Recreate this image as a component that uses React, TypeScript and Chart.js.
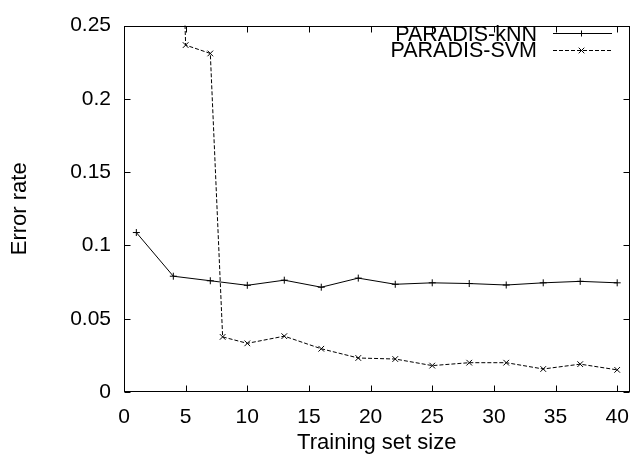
import React, { useEffect, useRef } from "react";
import { Chart, registerables } from "chart.js";

Chart.register(...registerables);

// ---- data ----
const knnX = [1, 4, 7, 10, 13, 16, 19, 22, 25, 28, 31, 34, 37, 40];
const knnY = [0.1088, 0.079, 0.0759, 0.0728, 0.0763, 0.0715, 0.0777, 0.0735, 0.0745, 0.074, 0.073, 0.0745, 0.0755, 0.0745];

const svmX = [4, 5, 7, 8, 10, 13, 16, 19, 22, 25, 28, 31, 34, 37, 40];
const svmY = [0.5, 0.2367, 0.231, 0.0376, 0.0332, 0.0381, 0.0295, 0.0232, 0.0225, 0.018, 0.02, 0.02, 0.0157, 0.019, 0.0151];

const seriesLabels = ["PARADIS-kNN", "PARADIS-SVM"];
const xTickLabels = ["0", "5", "10", "15", "20", "25", "30", "35", "40"];
const yTickLabels = ["0", "0.05", "0.1", "0.15", "0.2", "0.25"];
const xTitle = "Training set size";
const yTitle = "Error rate";

const FONT = '"Liberation Sans", Arial, Helvetica, sans-serif';

const framePlugin = {
  id: "frame",
  afterDatasetsDraw(chart: any) {
    const { ctx, chartArea: a, scales } = chart;
    const L = Math.round(a.left) + 0.5;
    const R = Math.round(a.right) - 0.5;
    const T = Math.round(a.top) + 0.5;
    const B = Math.round(a.bottom) - 0.5;
    const tl = 6;
    ctx.save();
    ctx.strokeStyle = "#000";
    ctx.lineWidth = 1;
    ctx.setLineDash([]);
    ctx.strokeRect(L, T, R - L, B - T);
    ctx.beginPath();
    scales.x.ticks.forEach((t: any) => {
      const px = Math.round(scales.x.getPixelForValue(t.value)) + 0.5;
      ctx.moveTo(px, B);
      ctx.lineTo(px, B - tl);
      ctx.moveTo(px, T);
      ctx.lineTo(px, T + tl);
    });
    scales.y.ticks.forEach((t: any) => {
      const py = Math.round(scales.y.getPixelForValue(t.value)) + 0.5;
      ctx.moveTo(L, py);
      ctx.lineTo(L + tl, py);
      ctx.moveTo(R, py);
      ctx.lineTo(R - tl, py);
    });
    ctx.stroke();

    // legend
    ctx.font = `21.5px ${FONT}`;
    ctx.fillStyle = "#000";
    ctx.textAlign = "right";
    ctx.textBaseline = "alphabetic";
    const textRight = 537;
    const lx0 = 553;
    const lx1 = 612;
    const mx = 581.5;
    const rows = [
      { y: 33.5, base: 40.7, dash: [] as number[], mark: "+" },
      { y: 50.5, base: 57, dash: [4, 2], mark: "x" },
    ];
    rows.forEach((r, i) => {
      ctx.fillText(seriesLabels[i], textRight, r.base);
      ctx.beginPath();
      ctx.setLineDash(r.dash);
      ctx.moveTo(lx0, r.y);
      ctx.lineTo(lx1, r.y);
      ctx.stroke();
      ctx.setLineDash([]);
      ctx.beginPath();
      if (r.mark === "+") {
        ctx.moveTo(mx - 3, r.y);
        ctx.lineTo(mx + 3, r.y);
        ctx.moveTo(mx, r.y - 3);
        ctx.lineTo(mx, r.y + 3);
      } else {
        ctx.moveTo(mx - 2.8, r.y - 2.8);
        ctx.lineTo(mx + 2.8, r.y + 2.8);
        ctx.moveTo(mx - 2.8, r.y + 2.8);
        ctx.lineTo(mx + 2.8, r.y - 2.8);
      }
      ctx.stroke();
    });
    ctx.restore();
  },
};

export default function App() {
  const ref = useRef<HTMLCanvasElement | null>(null);

  useEffect(() => {
    if (!ref.current) return;
    const chart = new Chart(ref.current, {
      type: "line",
      data: {
        datasets: [
          {
            label: seriesLabels[0],
            data: knnX.map((x, i) => ({ x, y: knnY[i] })),
            borderColor: "#000",
            borderWidth: 1,
            pointStyle: "cross",
            pointRadius: 3.5,
            pointBorderColor: "#000",
            pointBorderWidth: 1,
            backgroundColor: "#000",
            tension: 0,
          },
          {
            label: seriesLabels[1],
            data: svmX.map((x, i) => ({ x, y: svmY[i] })),
            borderColor: "#000",
            borderWidth: 1,
            borderDash: [4, 2],
            pointStyle: "crossRot",
            pointRadius: 4,
            pointBorderColor: "#000",
            pointBorderWidth: 1,
            backgroundColor: "#000",
            tension: 0,
          },
        ],
      },
      options: {
        animation: false,
        responsive: false,
        devicePixelRatio: 1,
        layout: { padding: { top: 16, right: 3, left: 0, bottom: 0 } },
        plugins: {
          legend: { display: false },
          tooltip: { enabled: false },
        },
        scales: {
          x: {
            type: "linear",
            min: 0,
            max: 41,
            grid: { display: false, drawTicks: false },
            border: { display: false },
            ticks: {
              stepSize: 5,
              includeBounds: false,
              color: "#000",
              padding: 13,
              maxRotation: 0,
              autoSkip: false,
              font: { family: FONT, size: 21 },
              callback: (v: any, i: number) => xTickLabels[i] ?? "",
            },
            title: {
              display: true,
              text: xTitle,
              color: "#000",
              font: { family: FONT, size: 22 },
              padding: { top: 0, bottom: 5 },
            },
            afterFit: (s: any) => {
              s.height = 69;
            },
          },
          y: {
            type: "linear",
            min: 0,
            max: 0.25,
            grid: { display: false, drawTicks: false },
            border: { display: false },
            ticks: {
              stepSize: 0.05,
              color: "#000",
              padding: 13,
              autoSkip: false,
              font: { family: FONT, size: 21 },
              callback: (v: any, i: number) => yTickLabels[i] ?? "",
            },
            title: {
              display: true,
              text: yTitle,
              color: "#000",
              font: { family: FONT, size: 22 },
              padding: { top: 7, bottom: 0 },
            },
            afterFit: (s: any) => {
              s.width = 124;
            },
          },
        },
      },
      plugins: [framePlugin],
    });
    return () => chart.destroy();
  }, []);

  return (
    <div style={{ position: "absolute", left: 0, top: 0, width: 642, height: 461, background: "#fff" }}>
      <canvas ref={ref} width={642} height={461} />
    </div>
  );
}
